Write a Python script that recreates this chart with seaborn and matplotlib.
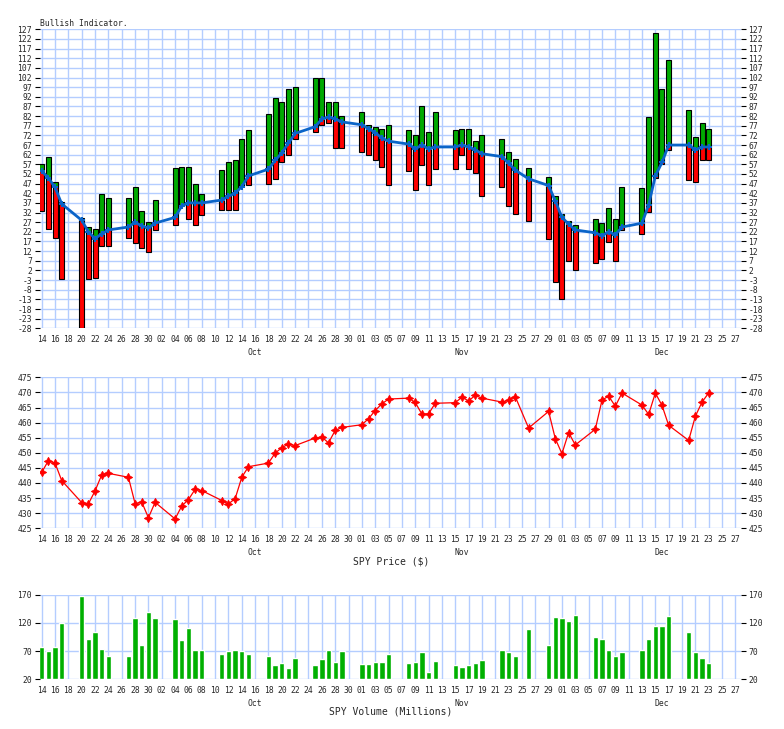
import pandas as pd
import numpy as np
import matplotlib.pyplot as plt
import seaborn as sns

# Trading days (2021)
sep_days = [14, 15, 16, 17, 20, 21, 22, 23, 24, 27, 28, 29, 30]
oct_days = [1, 4, 5, 6, 7, 8, 11, 12, 13, 14, 15, 18, 19, 20, 21, 22, 25, 26, 27, 28, 29]
nov_days = [1, 2, 3, 4, 5, 8, 9, 10, 11, 12, 15, 16, 17, 18, 19, 22, 23, 24, 26, 29, 30]
dec_days = [1, 2, 3, 6, 7, 8, 9, 10, 13, 14, 15, 16, 17, 20, 21, 22, 23]

# Bullish indicator: daily high / low and the moving average line
bull_high = [57, 61, 48, 37.5, 29, 24.5, 23.5, 41.5, 39.5, 39.5, 45.5, 33, 27,
             38.5, 55, 55.5, 55.5, 47, 41.5, 54, 58, 59, 70, 75, 83, 91.5, 89.5, 96, 97, 101.5, 101.5, 89.5, 89.5, 82,
             84, 77.5, 76.5, 75.5, 77.5, 75, 72, 87, 74, 84, 75, 75.5, 75.5, 69, 72, 70, 63.5, 60, 55, 50.5, 40.5,
             31, 27.5, 25.5, 28.5, 26.5, 34.5, 28.5, 45.5, 44.5, 81.5, 125, 96, 111, 85, 71, 78.5, 75.5]
bull_low = [33, 23.5, 19, -2.5, -28, -2.5, -2, 14.5, 14.5, 19, 16, 13.5, 11.5,
            23, 25.5, 35.5, 28.5, 25.5, 30.5, 33.5, 33.5, 33.5, 46, 46.5, 47, 49.5, 58, 62, 70, 74, 77.5, 78.5, 65.5, 65.5,
            63.5, 62, 59, 55.5, 46.5, 53.5, 43.5, 56.5, 46.5, 54.5, 54.5, 62, 54.5, 52.5, 40.5, 45.5, 35.5, 31.5, 27.5, 18.5, -4,
            -13, 7, 2, 6, 8, 16.5, 7, 23, 21, 32.5, 50, 57, 64.5, 49, 48, 59, 59]
bull_ma = [53.5, 50, 45, 36.5, 28, 22, 18.5, 21, 23, 24.5, 27, 25, 24,
           26.5, 29.5, 35.5, 37, 37, 37, 38.5, 40.5, 42, 45.5, 51, 54.5, 59, 63, 68, 73, 76.5, 80.5, 81.5, 80.5, 79,
           77.5, 75.5, 73.5, 70.5, 69, 67.5, 65, 67, 65, 66, 66, 67, 66, 64.5, 62.5, 61, 57.5, 54, 49.5, 46, 38,
           29.5, 26, 23, 21.5, 20, 22, 20.5, 24.5, 26.5, 36, 51, 58, 67, 67, 64.5, 66, 66]

# SPY close
spy_price = [443.5, 447.4, 446.6, 440.8, 433.5, 433.1, 437.4, 442.7, 443.2, 441.9, 433.2, 433.7, 428.5,
             433.6, 428.1, 432.4, 434.5, 437.9, 437.5, 434.2, 433.1, 434.8, 441.9, 445.4, 446.6, 449.9, 451.7,
             452.9, 452.4, 454.9, 455.2, 453.3, 457.4, 458.4,
             459.3, 461.3, 464.0, 466.2, 467.8, 468.1, 466.7, 462.8, 462.9, 466.4, 466.6, 468.4, 467.2, 469.0,
             468.1, 466.8, 467.4, 468.6, 458.2, 463.7, 454.7,
             449.7, 456.7, 452.6, 457.8, 467.4, 468.8, 465.4, 469.8, 465.8, 462.7, 469.8, 465.7, 459.1, 454.1,
             462.1, 466.8, 469.8]

# SPY volume (millions)
spy_volume = [77.5, 70.5, 77.5, 119, 167, 91.5, 103, 74, 61.5, 61.5, 129, 81, 139.5,
              129, 127.5, 90, 111, 72, 72, 65, 70.5, 72, 70.5, 65, 61.5, 45.5, 49, 40, 58, 45.5, 56, 72, 51, 70.5,
              47, 47, 51, 51, 65, 48.5, 50, 67.5, 32.5, 51.5, 45, 41.5, 45, 48.5, 55, 71, 67.5, 60.5, 109, 81, 129.5,
              128, 122.5, 133, 95, 91.5, 71, 60.5, 67.5, 72.5, 91.5, 114, 114, 131.5, 103.5, 67.5, 57, 48.5]

month_names = ['Oct', 'Nov', 'Dec']

start = pd.Timestamp('2021-09-14')
dates = pd.to_datetime([f'2021-09-{d:02d}' for d in sep_days] +
                       [f'2021-10-{d:02d}' for d in oct_days] +
                       [f'2021-11-{d:02d}' for d in nov_days] +
                       [f'2021-12-{d:02d}' for d in dec_days])
x = np.array((dates - start).days, dtype=float)
hi = np.array(bull_high, dtype=float)
lo = np.array(bull_low, dtype=float)
ma = np.array(bull_ma, dtype=float)

sns.set_style('white')
plt.rcParams['font.family'] = ['DejaVu Sans Mono']
GRID = '#b4cdff'
FS = 5.8

fig = plt.figure(figsize=(7.84, 7.29), dpi=100)
W, H = 784.0, 729.0
L, R = 39.7, 740.7


def box(top, bottom):
    return [L / W, (H - bottom) / H, (R - L) / W, (bottom - top) / H]


ax1 = fig.add_axes(box(29.3, 328.3))
ax2 = fig.add_axes(box(377.3, 528.3))
ax3 = fig.add_axes(box(594.5, 679.3))

ticks = np.arange(0, 105, 2)
tick_labels = [(start + pd.Timedelta(days=int(t))).strftime('%d') for t in ticks]
month_pos = [(pd.Timestamp(f'2021-{m}-16') - start).days for m in (10, 11, 12)]


def style(ax, yticks):
    ax.set_xlim(-0.3, 104.8)
    ax.set_xticks(ticks)
    ax.set_xticklabels(tick_labels)
    ax.set_yticks(yticks)
    ax.set_yticklabels([str(v) for v in yticks])
    ax.grid(True, color=GRID, lw=1.0)
    ax.set_axisbelow(True)
    for s in ax.spines.values():
        s.set_visible(False)
    ax.tick_params(axis='x', length=0, labelsize=FS, pad=5)
    ax.tick_params(axis='y', left=True, right=True, labelleft=True, labelright=True,
                   length=3.5, width=0.8, color='black', direction='out', labelsize=FS, pad=2)
    ax.set_xlabel('')
    ax.set_ylabel('')
    for mp, mn in zip(month_pos, month_names):
        ax.annotate(mn, xy=(mp, 0), xycoords=('data', 'axes fraction'),
                    xytext=(0, -17.3), textcoords='offset points',
                    ha='center', va='center', fontsize=FS)


# --- Bullish indicator ---
g_bot = np.maximum(lo, ma)
g_mask = hi > g_bot
r_top = np.minimum(hi, ma)
r_mask = lo < r_top
ax1.bar(x[g_mask], (hi - g_bot)[g_mask], bottom=g_bot[g_mask], width=0.75,
        color='#00aa00', edgecolor='black', linewidth=0.8, zorder=2)
ax1.bar(x[r_mask], (r_top - lo)[r_mask], bottom=lo[r_mask], width=0.75,
        color='#ff0000', edgecolor='black', linewidth=0.8, zorder=2)
sns.lineplot(x=x, y=ma, ax=ax1, color='#0a64c8', lw=2.0, marker='P', markersize=4,
             markeredgewidth=0, zorder=3)
ax1.set_ylim(-28, 127)
style(ax1, list(range(-28, 128, 5)))
fig.text(40.5 / W, 1 - 24 / H, 'Bullish Indicator.', fontsize=FS, ha='left', va='center')

# --- SPY price ---
sns.lineplot(x=x, y=spy_price, ax=ax2, color='#ff0000', lw=0.9, marker=(4, 1, 0),
             markersize=6, markeredgewidth=0.6, markeredgecolor='#ff0000', zorder=3)
ax2.set_ylim(425, 475)
style(ax2, list(range(425, 476, 5)))
fig.text(391 / W, 1 - 561 / H, 'SPY Price ($)', fontsize=7, ha='center', va='center')

# --- SPY volume ---
ax3.bar(x, np.array(spy_volume) - 20, bottom=20, width=0.8, color='#00b000', zorder=2)
ax3.set_ylim(20, 170)
style(ax3, [20, 70, 120, 170])
fig.text(391 / W, 1 - 711 / H, 'SPY Volume (Millions)', fontsize=7, ha='center', va='center')

fig.savefig('out.png', dpi=100)
